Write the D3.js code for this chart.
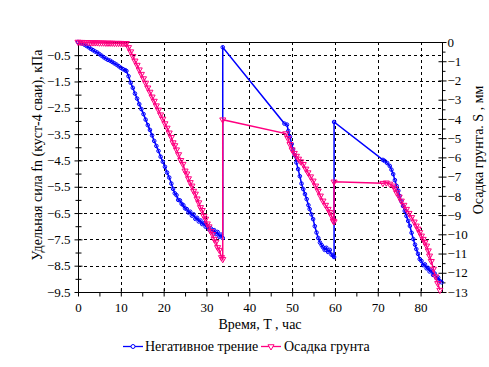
<!DOCTYPE html>
<html><head><meta charset="utf-8">
<script src="https://cdn.jsdelivr.net/npm/d3@7"></script>
<style>body{margin:0;background:#fff}svg{display:block}</style>
</head><body><svg id="c" width="489" height="367"></svg>
<script>
// ---- data ----
const xTicks = [0,10,20,30,40,50,60,70,80];
const leftTicks = [-0.5,-1.5,-2.5,-3.5,-4.5,-5.5,-6.5,-7.5,-8.5,-9.5];
const rightTicks = [0,-1,-2,-3,-4,-5,-6,-7,-8,-9,-10,-11,-12,-13];
const seriesNames = ["Негативное трение","Осадка грунта"];

// Негативное трение (кПа), time in hours
const frictionT = [0,0.5,1,1.5,2,2.5,3,3.5,4,4.5,5,5.5,6,6.5,7,7.5,8,8.5,9,9.5,10,10.5,11,11.3,
 11.8,12.3,12.8,13.3,13.8,14.3,14.8,15.3,15.8,16.3,16.8,17.3,17.8,18.3,18.8,19.3,19.8,20.3,20.8,21.3,21.8,22.2,
 22.6,23,23.4,23.8,24.2,24.6,25,25.4,25.8,26.2,26.6,27,27.4,27.8,28.2,28.6,29,29.4,29.8,30.2,30.6,31,31.4,31.8,32.2,32.6,33,33.4,33.8,
 33.8,48.2,48.8,49.1,
 49.5,49.9,50.2,50.6,51,51.4,51.8,52.2,52.6,53,53.4,53.8,54.1,54.5,54.9,55.3,55.7,56.1,56.5,56.9,57.2,57.6,58,58.4,58.8,59.2,59.6,59.8,
 59.8,71.2,71.6,
 72.2,72.8,73.2,73.6,74,74.4,74.8,75.1,75.5,75.9,76.3,76.7,77.1,77.5,77.9,78.3,78.7,79,79.4,79.8,80.2,80.6,81,81.4,81.7,82.1,82.5,82.9,83.3,83.7,84.1,84.5,84.9];
const frictionV = [0,-0.02,-0.06,-0.1,-0.15,-0.2,-0.26,-0.31,-0.36,-0.4,-0.46,-0.52,-0.58,-0.63,-0.68,-0.71,-0.76,-0.81,-0.86,-0.92,-0.98,-1.03,-1.07,-1.1,
 -1.3,-1.55,-1.74,-1.96,-2.15,-2.36,-2.55,-2.74,-2.95,-3.16,-3.34,-3.55,-3.76,-3.95,-4.14,-4.36,-4.55,-4.74,-4.96,-5.15,-5.38,-5.58,
 -5.75,-5.82,-6.0,-6.02,-6.15,-6.2,-6.32,-6.35,-6.48,-6.45,-6.6,-6.55,-6.72,-6.68,-6.82,-6.78,-6.92,-6.88,-7.02,-6.98,-7.12,-7.08,-7.2,-7.15,-7.3,-7.22,-7.4,-7.32,-7.45,
 -0.2,-3.1,-3.14,-3.38,
 -3.6,-3.88,-4.08,-4.3,-4.58,-4.83,-5.1,-5.38,-5.59,-5.78,-5.97,-6.2,-6.35,-6.55,-6.73,-7.0,-7.24,-7.45,-7.62,-7.72,-7.8,-7.9,-7.82,-7.98,-7.9,-8.08,-8.12,-8.17,
 -3.04,-4.48,-4.52,
 -4.6,-4.71,-4.85,-5.02,-5.25,-5.47,-5.65,-5.85,-6.05,-6.23,-6.42,-6.61,-6.8,-6.99,-7.25,-7.49,-7.7,-7.87,-8.05,-8.25,-8.32,-8.48,-8.45,-8.6,-8.58,-8.72,-8.68,-8.85,-8.8,-8.97,-8.95,-9.08,-9.13];

// Осадка грунта (мм)
const settleT = [0,0.5,1,1.5,2,2.5,3,3.5,4,4.5,5,5.5,6,6.5,7,7.5,8,8.5,9,9.5,10,10.5,11,11.3,
 11.8,12.3,12.8,13.3,13.8,14.3,14.8,15.3,15.8,16.3,16.8,17.3,17.8,18.3,18.8,19.3,19.8,20.3,20.8,21.3,21.8,22.2,
 22.6,23,23.5,24,24.5,25,25.4,25.8,26.2,26.6,27,27.4,27.8,28.2,28.6,29,29.4,29.8,30.2,30.6,31,31.4,31.8,32.2,32.6,33,33.5,33.8,
 33.8,48.5,
 49,49.5,50,50.5,51,51.5,52,52.6,53.2,53.7,54.3,54.9,55.5,56.1,56.6,57.2,57.8,58.4,58.8,59.2,59.6,59.8,
 59.8,71.2,
 72,72.8,73.6,74,74.4,75,75.5,76.1,76.7,77.3,77.9,78.5,79,79.4,79.8,80.2,80.6,81,81.4,81.8,82.1,82.5,83,83.5,84,84.5];
const settleV = [0,-0.01,-0.01,-0.02,-0.02,-0.02,-0.03,-0.03,-0.03,-0.03,-0.04,-0.04,-0.04,-0.05,-0.05,-0.05,-0.05,-0.06,-0.06,-0.06,-0.06,-0.07,-0.07,-0.07,
 -0.28,-0.5,-0.74,-0.98,-1.2,-1.44,-1.67,-1.9,-2.13,-2.38,-2.6,-2.85,-3.07,-3.31,-3.53,-3.78,-4.0,-4.24,-4.47,-4.72,-4.95,-5.23,
 -5.38,-5.6,-5.85,-6.15,-6.35,-6.7,-6.85,-7.1,-7.3,-7.48,-7.75,-7.9,-8.15,-8.35,-8.6,-8.75,-9.05,-9.2,-9.45,-9.6,-9.85,-10.0,-10.25,-10.4,-10.68,-10.82,-11.2,-11.3,
 -4.04,-4.76,
 -5.0,-5.32,-5.6,-5.78,-5.93,-6.08,-6.22,-6.36,-6.6,-6.79,-7.0,-7.22,-7.48,-7.74,-8.0,-8.26,-8.48,-8.69,-8.85,-9.04,-9.3,-9.34,
 -7.27,-7.34,
 -7.32,-7.38,-7.48,-7.62,-7.83,-8.05,-8.26,-8.48,-8.69,-8.9,-9.12,-9.35,-9.56,-9.72,-9.9,-10.08,-10.25,-10.42,-10.6,-10.85,-11.12,-11.4,-11.8,-12.2,-12.55,-12.9];

// ---- chart ----
const svg = d3.select("#c");
const x = d3.scaleLinear([0,85],[78,442]);
const yL = d3.scaleLinear([-9.5,0],[292,42]);
const yR = d3.scaleLinear([-13,0],[292,42]);
const blue = "#0000ff", pink = "#ff0080";

// grid
const g = svg.append("g").attr("stroke","#000").attr("stroke-width",1).attr("stroke-dasharray","3,3").attr("shape-rendering","crispEdges");
xTicks.filter(d=>d>0).forEach(d=>g.append("line").attr("x1",Math.round(x(d))+0.5).attr("x2",Math.round(x(d))+0.5).attr("y1",42).attr("y2",292));
leftTicks.filter(d=>d>-9.5).forEach(d=>g.append("line").attr("y1",Math.round(yL(d))+0.5).attr("y2",Math.round(yL(d))+0.5).attr("x1",78).attr("x2",442));

// frame
svg.append("rect").attr("x",78.5).attr("y",42.5).attr("width",364).attr("height",250)
  .attr("fill","none").attr("stroke","#000").attr("stroke-width",1).attr("shape-rendering","crispEdges");

// axes
function strip(sel){ sel.attr("font-family",null).attr("font-size",null); sel.select(".domain").remove(); return sel; }
const bottomAx = strip(svg.append("g").attr("transform","translate(0,292.5)")
  .call(d3.axisBottom(x).tickValues(xTicks).tickSize(4).tickFormat(d3.format("d"))));
bottomAx.selectAll(".tick line").attr("y1",-4);
bottomAx.selectAll("text").attr("font-size",13).attr("y",10).attr("dy","0.71em");
strip(svg.append("g").attr("transform","translate(0,292.5)")
  .call(d3.axisBottom(x).tickValues(d3.range(5,85,10)).tickSize(4).tickFormat("")));

const leftAx = strip(svg.append("g").attr("transform","translate(78.5,0)")
  .call(d3.axisLeft(yL).tickValues(leftTicks).tickSize(4).tickFormat(d3.format(".1f"))));
leftAx.selectAll(".tick line").attr("x1",4);
leftAx.selectAll("text").attr("font-size",13).attr("x",-8);
const lMinor = strip(svg.append("g").attr("transform","translate(78.5,0)")
  .call(d3.axisLeft(yL).tickValues(d3.range(-1,-9.5,-1)).tickSize(3).tickFormat("")));
lMinor.selectAll(".tick line").attr("x1",3);

const rightAx = strip(svg.append("g").attr("transform","translate(442.5,0)")
  .call(d3.axisRight(yR).tickValues(rightTicks).tickSize(4).tickFormat(d3.format("d"))));
rightAx.selectAll(".tick line").attr("x1",-4);
rightAx.selectAll("text").attr("font-size",13).attr("x",5);
strip(svg.append("g").attr("transform","translate(442.5,0)")
  .call(d3.axisRight(yR).tickValues(d3.range(-0.5,-13,-1)).tickSize(3).tickFormat("")));
svg.selectAll(".tick line").attr("stroke","#000");

// series
const fr = frictionT.map((t,i)=>[t,frictionV[i]]);
const st = settleT.map((t,i)=>[t,settleV[i]]);
svg.append("path").datum(fr).attr("fill","none").attr("stroke",blue).attr("stroke-width",1.5)
  .attr("d",d3.line().x(d=>x(d[0])).y(d=>yL(d[1])));
svg.append("g").selectAll("circle").data(fr).join("circle")
  .attr("cx",d=>x(d[0])).attr("cy",d=>yL(d[1])).attr("r",1.8)
  .attr("fill","none").attr("stroke",blue).attr("stroke-width",1);

svg.append("path").datum(st).attr("fill","none").attr("stroke",pink).attr("stroke-width",1.5)
  .attr("d",d3.line().x(d=>x(d[0])).y(d=>yR(d[1])));
const tri = d3.symbol(d3.symbolTriangle,16);
svg.append("g").selectAll("path").data(st).join("path")
  .attr("d",tri).attr("transform",d=>`translate(${x(d[0])},${yR(d[1])}) rotate(180)`)
  .attr("fill","none").attr("stroke",pink).attr("stroke-width",1);

// titles
svg.append("text").attr("transform","translate(42,155) rotate(-90)").attr("text-anchor","middle")
  .attr("font-size",14).text("Удельная сила fn (куст-4 сваи), кПа");
svg.append("text").attr("transform","translate(483,150) rotate(-90)").attr("text-anchor","middle")
  .attr("font-size",14).text("Осадка грунта. S , мм");
svg.append("text").attr("x",260).attr("y",329).attr("text-anchor","middle")
  .attr("font-size",14).text("Время, T , час");

// legend
const lg = svg.append("g");
lg.append("line").attr("x1",123).attr("x2",143).attr("y1",346.5).attr("y2",346.5).attr("stroke",blue).attr("stroke-width",1.3);
lg.append("circle").attr("cx",133).attr("cy",346.5).attr("r",2).attr("fill","#fff").attr("stroke",blue);
lg.append("text").attr("x",145).attr("y",351).attr("font-size",14).text(seriesNames[0]);
lg.append("line").attr("x1",261).attr("x2",281).attr("y1",346.5).attr("y2",346.5).attr("stroke",pink).attr("stroke-width",1.3);
lg.append("path").attr("d",tri).attr("transform","translate(271,346.5) rotate(180)").attr("fill","#fff").attr("stroke",pink);
lg.append("text").attr("x",284).attr("y",351).attr("font-size",14).text(seriesNames[1]);

svg.selectAll("text").attr("font-family","Liberation Serif").attr("fill","#000");
</script></body></html>
